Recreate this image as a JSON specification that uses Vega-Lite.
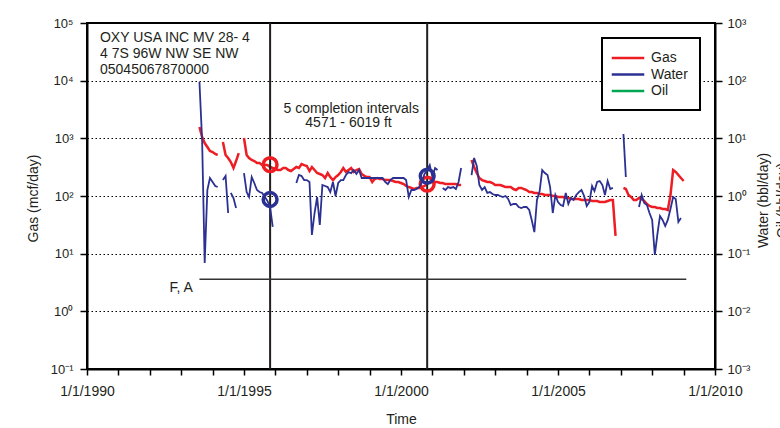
{
  "$schema": "https://vega.github.io/schema/vega-lite/v6.json",
  "width": 628,
  "height": 346,
  "autosize": {"type": "none"},
  "padding": {"left": 87, "top": 23, "right": 65, "bottom": 59},
  "background": "white",
  "config": {
    "font": "Liberation Sans",
    "view": {"stroke": "black", "strokeWidth": 2},
    "axis": {
      "domainColor": "black", "domainWidth": 2, "tickColor": "black", "tickWidth": 1.5,
      "labelColor": "#231f20", "titleColor": "#231f20", "labelFont": "Liberation Sans",
      "titleFont": "Liberation Sans", "titleFontWeight": "normal", "titleFontSize": 14,
      "labelFlush": false, "labelBound": false, "labelOverlap": false
    }
  },
  "datasets": {
    "gas": [
      {"d":"1993-08-01","v":1570,"s":"g1","k":"Gas"},{"d":"1993-09-01","v":1053,"s":"g1","k":"Gas"},{"d":"1993-10-01","v":829,"s":"g1","k":"Gas"},{"d":"1993-11-01","v":707,"s":"g1","k":"Gas"},{"d":"1993-12-01","v":603,"s":"g1","k":"Gas"},{"d":"1994-01-01","v":579,"s":"g1","k":"Gas"},{"d":"1994-02-01","v":535,"s":"g1","k":"Gas"},{"d":"1994-03-01","v":514,"s":"g1","k":"Gas"},
      {"d":"1994-05-01","v":863,"s":"g2","k":"Gas"},{"d":"1994-06-01","v":514,"s":"g2","k":"Gas"},{"d":"1994-07-01","v":456,"s":"g2","k":"Gas"},{"d":"1994-08-01","v":388,"s":"g2","k":"Gas"},{"d":"1994-09-01","v":306,"s":"g2","k":"Gas"},{"d":"1994-10-01","v":404,"s":"g2","k":"Gas"},{"d":"1994-11-01","v":556,"s":"g2","k":"Gas"},
      {"d":"1995-01-01","v":1012,"s":"g3","k":"Gas"},{"d":"1995-02-01","v":514,"s":"g3","k":"Gas"},{"d":"1995-03-01","v":456,"s":"g3","k":"Gas"},{"d":"1995-04-01","v":421,"s":"g3","k":"Gas"},{"d":"1995-05-01","v":404,"s":"g3","k":"Gas"},{"d":"1995-06-01","v":373,"s":"g3","k":"Gas"},{"d":"1995-07-01","v":373,"s":"g3","k":"Gas"},{"d":"1995-08-01","v":344,"s":"g3","k":"Gas"},{"d":"1995-09-01","v":344,"s":"g3","k":"Gas"},{"d":"1995-10-01","v":344,"s":"g3","k":"Gas"},{"d":"1995-11-01","v":318,"s":"g3","k":"Gas"},{"d":"1995-12-01","v":306,"s":"g3","k":"Gas"},
      {"d":"1996-01-01","v":294,"s":"g3","k":"Gas"},{"d":"1996-02-01","v":282,"s":"g3","k":"Gas"},{"d":"1996-03-01","v":282,"s":"g3","k":"Gas"},{"d":"1996-04-01","v":306,"s":"g3","k":"Gas"},{"d":"1996-05-01","v":306,"s":"g3","k":"Gas"},{"d":"1996-06-01","v":282,"s":"g3","k":"Gas"},{"d":"1996-07-01","v":271,"s":"g3","k":"Gas"},{"d":"1996-08-01","v":294,"s":"g3","k":"Gas"},{"d":"1996-09-01","v":318,"s":"g3","k":"Gas"},{"d":"1996-10-01","v":306,"s":"g3","k":"Gas"},{"d":"1996-11-01","v":359,"s":"g3","k":"Gas"},{"d":"1996-12-01","v":344,"s":"g3","k":"Gas"},
      {"d":"1997-01-01","v":331,"s":"g3","k":"Gas"},{"d":"1997-02-01","v":271,"s":"g3","k":"Gas"},{"d":"1997-03-01","v":318,"s":"g3","k":"Gas"},{"d":"1997-04-01","v":282,"s":"g3","k":"Gas"},{"d":"1997-05-01","v":250,"s":"g3","k":"Gas"},{"d":"1997-06-01","v":241,"s":"g3","k":"Gas"},{"d":"1997-07-01","v":231,"s":"g3","k":"Gas"},{"d":"1997-08-01","v":205,"s":"g3","k":"Gas"},{"d":"1997-09-01","v":250,"s":"g3","k":"Gas"},{"d":"1997-10-01","v":213,"s":"g3","k":"Gas"},{"d":"1997-11-01","v":189,"s":"g3","k":"Gas"},{"d":"1997-12-01","v":213,"s":"g3","k":"Gas"},
      {"d":"1998-01-01","v":231,"s":"g3","k":"Gas"},{"d":"1998-02-01","v":261,"s":"g3","k":"Gas"},{"d":"1998-03-01","v":306,"s":"g3","k":"Gas"},{"d":"1998-04-01","v":261,"s":"g3","k":"Gas"},{"d":"1998-05-01","v":282,"s":"g3","k":"Gas"},{"d":"1998-06-01","v":306,"s":"g3","k":"Gas"},{"d":"1998-07-01","v":261,"s":"g3","k":"Gas"},{"d":"1998-08-01","v":282,"s":"g3","k":"Gas"},{"d":"1998-09-01","v":294,"s":"g3","k":"Gas"},{"d":"1998-10-01","v":241,"s":"g3","k":"Gas"},{"d":"1998-11-01","v":222,"s":"g3","k":"Gas"},{"d":"1998-12-01","v":213,"s":"g3","k":"Gas"},
      {"d":"1999-01-01","v":213,"s":"g3","k":"Gas"},{"d":"1999-02-01","v":175,"s":"g3","k":"Gas"},{"d":"1999-03-01","v":197,"s":"g3","k":"Gas"},{"d":"1999-04-01","v":205,"s":"g3","k":"Gas"},{"d":"1999-05-01","v":197,"s":"g3","k":"Gas"},{"d":"1999-06-01","v":197,"s":"g3","k":"Gas"},{"d":"1999-07-01","v":189,"s":"g3","k":"Gas"},{"d":"1999-08-01","v":189,"s":"g3","k":"Gas"},{"d":"1999-09-01","v":189,"s":"g3","k":"Gas"},{"d":"1999-10-01","v":182,"s":"g3","k":"Gas"},{"d":"1999-11-01","v":175,"s":"g3","k":"Gas"},{"d":"1999-12-01","v":175,"s":"g3","k":"Gas"},
      {"d":"2000-01-01","v":168,"s":"g3","k":"Gas"},{"d":"2000-02-01","v":161,"s":"g3","k":"Gas"},{"d":"2000-03-01","v":149,"s":"g3","k":"Gas"},{"d":"2000-04-01","v":143,"s":"g3","k":"Gas"},{"d":"2000-05-01","v":138,"s":"g3","k":"Gas"},{"d":"2000-06-01","v":132,"s":"g3","k":"Gas"},{"d":"2000-07-01","v":138,"s":"g3","k":"Gas"},{"d":"2000-08-01","v":138,"s":"g3","k":"Gas"},{"d":"2000-09-01","v":143,"s":"g3","k":"Gas"},{"d":"2000-10-01","v":149,"s":"g3","k":"Gas"},{"d":"2000-11-01","v":161,"s":"g3","k":"Gas"},{"d":"2000-12-01","v":175,"s":"g3","k":"Gas"},
      {"d":"2001-01-01","v":175,"s":"g3","k":"Gas"},{"d":"2001-02-01","v":175,"s":"g3","k":"Gas"},{"d":"2001-03-01","v":175,"s":"g3","k":"Gas"},{"d":"2001-04-01","v":168,"s":"g3","k":"Gas"},{"d":"2001-05-01","v":168,"s":"g3","k":"Gas"},{"d":"2001-06-01","v":161,"s":"g3","k":"Gas"},{"d":"2001-07-01","v":161,"s":"g3","k":"Gas"},{"d":"2001-08-01","v":161,"s":"g3","k":"Gas"},{"d":"2001-09-01","v":161,"s":"g3","k":"Gas"},{"d":"2001-10-01","v":161,"s":"g3","k":"Gas"},{"d":"2001-11-01","v":155,"s":"g3","k":"Gas"},{"d":"2001-12-01","v":155,"s":"g3","k":"Gas"},
      {"d":"2002-04-01","v":421,"s":"g4","k":"Gas"},{"d":"2002-05-01","v":318,"s":"g4","k":"Gas"},{"d":"2002-06-01","v":250,"s":"g4","k":"Gas"},{"d":"2002-07-01","v":205,"s":"g4","k":"Gas"},{"d":"2002-08-01","v":189,"s":"g4","k":"Gas"},{"d":"2002-09-01","v":182,"s":"g4","k":"Gas"},{"d":"2002-10-01","v":175,"s":"g4","k":"Gas"},{"d":"2002-11-01","v":175,"s":"g4","k":"Gas"},{"d":"2002-12-01","v":168,"s":"g4","k":"Gas"},
      {"d":"2003-01-01","v":155,"s":"g4","k":"Gas"},{"d":"2003-02-01","v":155,"s":"g4","k":"Gas"},{"d":"2003-03-01","v":155,"s":"g4","k":"Gas"},{"d":"2003-04-01","v":149,"s":"g4","k":"Gas"},{"d":"2003-05-01","v":143,"s":"g4","k":"Gas"},{"d":"2003-06-01","v":143,"s":"g4","k":"Gas"},{"d":"2003-07-01","v":143,"s":"g4","k":"Gas"},{"d":"2003-08-01","v":132,"s":"g4","k":"Gas"},{"d":"2003-09-01","v":127,"s":"g4","k":"Gas"},{"d":"2003-10-01","v":138,"s":"g4","k":"Gas"},{"d":"2003-11-01","v":138,"s":"g4","k":"Gas"},{"d":"2003-12-01","v":132,"s":"g4","k":"Gas"},
      {"d":"2004-01-01","v":127,"s":"g4","k":"Gas"},{"d":"2004-02-01","v":117,"s":"g4","k":"Gas"},{"d":"2004-03-01","v":117,"s":"g4","k":"Gas"},{"d":"2004-04-01","v":113,"s":"g4","k":"Gas"},{"d":"2004-05-01","v":113,"s":"g4","k":"Gas"},{"d":"2004-06-01","v":108,"s":"g4","k":"Gas"},{"d":"2004-07-01","v":108,"s":"g4","k":"Gas"},{"d":"2004-08-01","v":104,"s":"g4","k":"Gas"},{"d":"2004-09-01","v":104,"s":"g4","k":"Gas"},{"d":"2004-10-01","v":104,"s":"g4","k":"Gas"},{"d":"2004-11-01","v":100,"s":"g4","k":"Gas"},{"d":"2004-12-01","v":100,"s":"g4","k":"Gas"},
      {"d":"2005-01-01","v":96.1,"s":"g4","k":"Gas"},{"d":"2005-02-01","v":96.1,"s":"g4","k":"Gas"},{"d":"2005-03-01","v":96.1,"s":"g4","k":"Gas"},{"d":"2005-04-01","v":92.3,"s":"g4","k":"Gas"},{"d":"2005-05-01","v":92.3,"s":"g4","k":"Gas"},{"d":"2005-06-01","v":88.7,"s":"g4","k":"Gas"},{"d":"2005-07-01","v":88.7,"s":"g4","k":"Gas"},{"d":"2005-08-01","v":88.7,"s":"g4","k":"Gas"},{"d":"2005-09-01","v":88.7,"s":"g4","k":"Gas"},{"d":"2005-10-01","v":85.3,"s":"g4","k":"Gas"},{"d":"2005-11-01","v":85.3,"s":"g4","k":"Gas"},{"d":"2005-12-01","v":85.3,"s":"g4","k":"Gas"},
      {"d":"2006-01-01","v":85.3,"s":"g4","k":"Gas"},{"d":"2006-02-01","v":81.9,"s":"g4","k":"Gas"},{"d":"2006-03-01","v":81.9,"s":"g4","k":"Gas"},{"d":"2006-04-01","v":81.9,"s":"g4","k":"Gas"},{"d":"2006-05-01","v":78.7,"s":"g4","k":"Gas"},{"d":"2006-06-01","v":78.7,"s":"g4","k":"Gas"},{"d":"2006-07-01","v":78.7,"s":"g4","k":"Gas"},{"d":"2006-08-01","v":81.9,"s":"g4","k":"Gas"},{"d":"2006-09-01","v":85.3,"s":"g4","k":"Gas"},{"d":"2006-10-01","v":85.3,"s":"g4","k":"Gas"},{"d":"2006-11-01","v":20.3,"s":"g4","k":"Gas"},
      {"d":"2007-02-01","v":138,"s":"g5","k":"Gas"},{"d":"2007-03-01","v":132,"s":"g5","k":"Gas"},{"d":"2007-04-01","v":104,"s":"g5","k":"Gas"},{"d":"2007-05-01","v":96.1,"s":"g5","k":"Gas"},{"d":"2007-06-01","v":85.3,"s":"g5","k":"Gas"},{"d":"2007-07-01","v":85.3,"s":"g5","k":"Gas"},{"d":"2007-08-01","v":92.3,"s":"g5","k":"Gas"},{"d":"2007-09-01","v":88.7,"s":"g5","k":"Gas"},{"d":"2007-10-01","v":81.9,"s":"g5","k":"Gas"},{"d":"2007-11-01","v":72.7,"s":"g5","k":"Gas"},{"d":"2007-12-01","v":67.1,"s":"g5","k":"Gas"},
      {"d":"2008-01-01","v":64.5,"s":"g5","k":"Gas"},{"d":"2008-02-01","v":64.5,"s":"g5","k":"Gas"},{"d":"2008-03-01","v":61.9,"s":"g5","k":"Gas"},{"d":"2008-04-01","v":61.9,"s":"g5","k":"Gas"},{"d":"2008-05-01","v":59.5,"s":"g5","k":"Gas"},{"d":"2008-06-01","v":59.5,"s":"g5","k":"Gas"},{"d":"2008-07-01","v":57.2,"s":"g5","k":"Gas"},{"d":"2008-08-01","v":104,"s":"g5","k":"Gas"},{"d":"2008-09-01","v":282,"s":"g5","k":"Gas"},{"d":"2008-10-01","v":261,"s":"g5","k":"Gas"},{"d":"2008-11-01","v":231,"s":"g5","k":"Gas"},{"d":"2008-12-01","v":205,"s":"g5","k":"Gas"},{"d":"2009-01-01","v":182,"s":"g5","k":"Gas"}
    ],
    "water": [
      {"d":"1993-08-01","v":94.6,"s":"w1","k":"Water"},{"d":"1993-09-01","v":9.34,"s":"w1","k":"Water"},{"d":"1993-10-01","v":0.069,"s":"w1","k":"Water"},{"d":"1993-11-01","v":1.27,"s":"w1","k":"Water"},{"d":"1993-12-01","v":2.05,"s":"w1","k":"Water"},{"d":"1994-01-01","v":1.75,"s":"w1","k":"Water"},{"d":"1994-02-01","v":1.49,"s":"w1","k":"Water"},{"d":"1994-03-01","v":1.43,"s":"w1","k":"Water"},
      {"d":"1994-05-01","v":1.89,"s":"w2","k":"Water"},{"d":"1994-06-01","v":2.22,"s":"w2","k":"Water"},{"d":"1994-07-01","v":0.507,"s":"w2","k":"Water"},
      {"d":"1994-08-01","v":1.13,"s":"w3","k":"Water"},{"d":"1994-09-01","v":0.923,"s":"w3","k":"Water"},{"d":"1994-10-01","v":0.619,"s":"w3","k":"Water"},
      {"d":"1995-01-01","v":2.5,"s":"w4","k":"Water"},{"d":"1995-02-01","v":1.17,"s":"w4","k":"Water"},{"d":"1995-03-01","v":0.961,"s":"w4","k":"Water"},{"d":"1995-04-01","v":2.13,"s":"w4","k":"Water"},{"d":"1995-05-01","v":1.68,"s":"w4","k":"Water"},{"d":"1995-06-01","v":1.27,"s":"w4","k":"Water"},{"d":"1995-07-01","v":1.17,"s":"w4","k":"Water"},{"d":"1995-08-01","v":1.13,"s":"w4","k":"Water"},{"d":"1995-09-01","v":0.961,"s":"w4","k":"Water"},{"d":"1995-10-01","v":0.819,"s":"w4","k":"Water"},{"d":"1995-11-01","v":0.645,"s":"w4","k":"Water"},{"d":"1995-12-01","v":0.291,"s":"w4","k":"Water"},
      {"d":"1996-09-01","v":1.68,"s":"w5","k":"Water"},{"d":"1996-10-01","v":2.31,"s":"w5","k":"Water"},{"d":"1996-11-01","v":2.22,"s":"w5","k":"Water"},{"d":"1996-12-01","v":1.89,"s":"w5","k":"Water"},
      {"d":"1997-01-01","v":1.89,"s":"w5","k":"Water"},{"d":"1997-02-01","v":1.75,"s":"w5","k":"Water"},{"d":"1997-03-01","v":0.211,"s":"w5","k":"Water"},{"d":"1997-04-01","v":0.507,"s":"w5","k":"Water"},{"d":"1997-05-01","v":0.961,"s":"w5","k":"Water"},{"d":"1997-06-01","v":0.314,"s":"w5","k":"Water"},{"d":"1997-07-01","v":1.55,"s":"w5","k":"Water"},{"d":"1997-08-01","v":1.49,"s":"w5","k":"Water"},{"d":"1997-09-01","v":1.43,"s":"w5","k":"Water"},{"d":"1997-10-01","v":1.17,"s":"w5","k":"Water"},{"d":"1997-11-01","v":1.75,"s":"w5","k":"Water"},{"d":"1997-12-01","v":1.0,"s":"w5","k":"Water"},
      {"d":"1998-01-01","v":1.68,"s":"w5","k":"Water"},{"d":"1998-02-01","v":1.89,"s":"w5","k":"Water"},{"d":"1998-03-01","v":1.89,"s":"w5","k":"Water"},{"d":"1998-04-01","v":2.31,"s":"w5","k":"Water"},{"d":"1998-05-01","v":2.61,"s":"w5","k":"Water"},{"d":"1998-06-01","v":2.5,"s":"w5","k":"Water"},{"d":"1998-07-01","v":2.82,"s":"w5","k":"Water"},{"d":"1998-08-01","v":2.41,"s":"w5","k":"Water"},{"d":"1998-09-01","v":2.82,"s":"w5","k":"Water"},{"d":"1998-10-01","v":2.05,"s":"w5","k":"Water"},{"d":"1998-11-01","v":2.05,"s":"w5","k":"Water"},{"d":"1998-12-01","v":2.05,"s":"w5","k":"Water"},
      {"d":"1999-01-01","v":2.05,"s":"w5","k":"Water"},{"d":"1999-02-01","v":2.05,"s":"w5","k":"Water"},{"d":"1999-03-01","v":2.05,"s":"w5","k":"Water"},{"d":"1999-04-01","v":2.05,"s":"w5","k":"Water"},{"d":"1999-05-01","v":2.05,"s":"w5","k":"Water"},{"d":"1999-06-01","v":2.05,"s":"w5","k":"Water"},{"d":"1999-07-01","v":1.75,"s":"w5","k":"Water"},{"d":"1999-08-01","v":1.61,"s":"w5","k":"Water"},{"d":"1999-09-01","v":1.89,"s":"w5","k":"Water"},{"d":"1999-10-01","v":2.05,"s":"w5","k":"Water"},{"d":"1999-11-01","v":2.05,"s":"w5","k":"Water"},{"d":"1999-12-01","v":2.05,"s":"w5","k":"Water"},
      {"d":"2000-01-01","v":2.05,"s":"w5","k":"Water"},{"d":"2000-02-01","v":2.05,"s":"w5","k":"Water"},{"d":"2000-03-01","v":1.89,"s":"w5","k":"Water"},{"d":"2000-04-01","v":0.961,"s":"w5","k":"Water"},{"d":"2000-05-01","v":1.27,"s":"w5","k":"Water"},{"d":"2000-06-01","v":1.27,"s":"w5","k":"Water"},{"d":"2000-07-01","v":1.32,"s":"w5","k":"Water"},{"d":"2000-08-01","v":1.43,"s":"w5","k":"Water"},{"d":"2000-09-01","v":1.75,"s":"w5","k":"Water"},{"d":"2000-10-01","v":2.41,"s":"w5","k":"Water"},{"d":"2000-11-01","v":2.82,"s":"w5","k":"Water"},{"d":"2000-12-01","v":3.44,"s":"w5","k":"Water"},
      {"d":"2001-01-01","v":2.13,"s":"w5","k":"Water"},{"d":"2001-02-01","v":3.06,"s":"w5","k":"Water"},{"d":"2001-03-01","v":2.82,"s":"w5","k":"Water"},
      {"d":"2001-05-01","v":1.38,"s":"w6","k":"Water"},{"d":"2001-06-01","v":1.27,"s":"w6","k":"Water"},{"d":"2001-07-01","v":1.43,"s":"w6","k":"Water"},{"d":"2001-08-01","v":1.38,"s":"w6","k":"Water"},{"d":"2001-09-01","v":1.43,"s":"w6","k":"Water"},{"d":"2001-10-01","v":1.32,"s":"w6","k":"Water"},{"d":"2001-11-01","v":1.75,"s":"w6","k":"Water"},{"d":"2001-12-01","v":3.06,"s":"w6","k":"Water"},
      {"d":"2002-04-01","v":2.31,"s":"w7","k":"Water"},{"d":"2002-05-01","v":4.56,"s":"w7","k":"Water"},{"d":"2002-06-01","v":3.31,"s":"w7","k":"Water"},{"d":"2002-07-01","v":1.55,"s":"w7","k":"Water"},{"d":"2002-08-01","v":1.27,"s":"w7","k":"Water"},{"d":"2002-09-01","v":1.43,"s":"w7","k":"Water"},{"d":"2002-10-01","v":1.13,"s":"w7","k":"Water"},{"d":"2002-11-01","v":1.17,"s":"w7","k":"Water"},{"d":"2002-12-01","v":1.08,"s":"w7","k":"Water"},
      {"d":"2003-01-01","v":1.04,"s":"w7","k":"Water"},{"d":"2003-02-01","v":1.04,"s":"w7","k":"Water"},{"d":"2003-03-01","v":1.0,"s":"w7","k":"Water"},{"d":"2003-04-01","v":0.961,"s":"w7","k":"Water"},{"d":"2003-05-01","v":1.0,"s":"w7","k":"Water"},{"d":"2003-06-01","v":0.887,"s":"w7","k":"Water"},{"d":"2003-07-01","v":0.698,"s":"w7","k":"Water"},{"d":"2003-08-01","v":0.727,"s":"w7","k":"Water"},{"d":"2003-09-01","v":0.727,"s":"w7","k":"Water"},{"d":"2003-10-01","v":0.645,"s":"w7","k":"Water"},{"d":"2003-11-01","v":0.619,"s":"w7","k":"Water"},{"d":"2003-12-01","v":0.645,"s":"w7","k":"Water"},
      {"d":"2004-01-01","v":0.645,"s":"w7","k":"Water"},{"d":"2004-02-01","v":0.572,"s":"w7","k":"Water"},{"d":"2004-03-01","v":0.384,"s":"w7","k":"Water"},{"d":"2004-04-01","v":0.237,"s":"w7","k":"Water"},{"d":"2004-05-01","v":0.853,"s":"w7","k":"Water"},{"d":"2004-06-01","v":1.22,"s":"w7","k":"Water"},{"d":"2004-07-01","v":2.82,"s":"w7","k":"Water"},{"d":"2004-08-01","v":2.5,"s":"w7","k":"Water"},{"d":"2004-09-01","v":2.31,"s":"w7","k":"Water"},{"d":"2004-10-01","v":1.43,"s":"w7","k":"Water"},{"d":"2004-11-01","v":0.507,"s":"w7","k":"Water"},{"d":"2004-12-01","v":1.04,"s":"w7","k":"Water"},
      {"d":"2005-01-01","v":0.787,"s":"w7","k":"Water"},{"d":"2005-02-01","v":0.698,"s":"w7","k":"Water"},{"d":"2005-03-01","v":0.671,"s":"w7","k":"Water"},{"d":"2005-04-01","v":1.13,"s":"w7","k":"Water"},{"d":"2005-05-01","v":0.727,"s":"w7","k":"Water"},{"d":"2005-06-01","v":0.923,"s":"w7","k":"Water"},{"d":"2005-07-01","v":0.853,"s":"w7","k":"Water"},{"d":"2005-08-01","v":1.04,"s":"w7","k":"Water"},{"d":"2005-09-01","v":1.17,"s":"w7","k":"Water"},{"d":"2005-10-01","v":1.27,"s":"w7","k":"Water"},{"d":"2005-11-01","v":1.0,"s":"w7","k":"Water"},{"d":"2005-12-01","v":0.671,"s":"w7","k":"Water"},
      {"d":"2006-01-01","v":0.787,"s":"w7","k":"Water"},{"d":"2006-02-01","v":1.49,"s":"w7","k":"Water"},{"d":"2006-03-01","v":1.22,"s":"w7","k":"Water"},{"d":"2006-04-01","v":1.75,"s":"w7","k":"Water"},{"d":"2006-05-01","v":1.82,"s":"w7","k":"Water"},{"d":"2006-06-01","v":1.55,"s":"w7","k":"Water"},{"d":"2006-07-01","v":1.04,"s":"w7","k":"Water"},{"d":"2006-08-01","v":1.82,"s":"w7","k":"Water"},{"d":"2006-09-01","v":1.32,"s":"w7","k":"Water"},{"d":"2006-10-01","v":1.38,"s":"w7","k":"Water"},
      {"d":"2007-02-01","v":11.87,"s":"w8","k":"Water"},{"d":"2007-03-01","v":2.13,"s":"w8","k":"Water"},
      {"d":"2007-08-01","v":0.645,"s":"w9","k":"Water"},{"d":"2007-09-01","v":1.04,"s":"w9","k":"Water"},{"d":"2007-10-01","v":0.756,"s":"w9","k":"Water"},{"d":"2007-11-01","v":0.698,"s":"w9","k":"Water"},{"d":"2007-12-01","v":0.507,"s":"w9","k":"Water"},
      {"d":"2008-01-01","v":0.384,"s":"w9","k":"Water"},{"d":"2008-02-01","v":0.095,"s":"w9","k":"Water"},{"d":"2008-03-01","v":0.211,"s":"w9","k":"Water"},{"d":"2008-04-01","v":0.451,"s":"w9","k":"Water"},{"d":"2008-05-01","v":0.384,"s":"w9","k":"Water"},{"d":"2008-06-01","v":0.302,"s":"w9","k":"Water"},{"d":"2008-07-01","v":0.384,"s":"w9","k":"Water"},{"d":"2008-08-01","v":0.595,"s":"w9","k":"Water"},{"d":"2008-09-01","v":0.961,"s":"w9","k":"Water"},{"d":"2008-10-01","v":0.887,"s":"w9","k":"Water"},{"d":"2008-11-01","v":0.355,"s":"w9","k":"Water"},{"d":"2008-12-01","v":0.415,"s":"w9","k":"Water"}
    ]
  },
  "encoding": {
    "x": {
      "field": "d", "type": "temporal",
      "scale": {"type": "utc", "domain": [{"year": 1990, "month": 1, "date": 1, "utc": true}, {"year": 2010, "month": 1, "date": 1, "utc": true}]},
      "axis": {
        "values": [
          {"year":1990,"month":1,"date":1,"utc":true},{"year":1991,"month":1,"date":1,"utc":true},{"year":1992,"month":1,"date":1,"utc":true},{"year":1993,"month":1,"date":1,"utc":true},{"year":1994,"month":1,"date":1,"utc":true},{"year":1995,"month":1,"date":1,"utc":true},{"year":1996,"month":1,"date":1,"utc":true},{"year":1997,"month":1,"date":1,"utc":true},{"year":1998,"month":1,"date":1,"utc":true},{"year":1999,"month":1,"date":1,"utc":true},{"year":2000,"month":1,"date":1,"utc":true},{"year":2001,"month":1,"date":1,"utc":true},{"year":2002,"month":1,"date":1,"utc":true},{"year":2003,"month":1,"date":1,"utc":true},{"year":2004,"month":1,"date":1,"utc":true},{"year":2005,"month":1,"date":1,"utc":true},{"year":2006,"month":1,"date":1,"utc":true},{"year":2007,"month":1,"date":1,"utc":true},{"year":2008,"month":1,"date":1,"utc":true},{"year":2009,"month":1,"date":1,"utc":true},{"year":2010,"month":1,"date":1,"utc":true}
        ],
        "labelExpr": "utcyear(datum.value) % 5 == 0 ? '1/1/' + utcyear(datum.value) : ''",
        "labelFontSize": 14, "tickSize": 6, "labelPadding": 9, "grid": false,
        "title": "Time", "titleX": 314, "titleY": 54, "titleBaseline": "alphabetic", "titleAlign": "center"
      }
    }
  },
  "layer": [
    {
      "encoding": {
        "y": {
          "field": "v", "type": "quantitative",
          "scale": {"type": "log", "domain": [0.1, 100000], "nice": false},
          "axis": {
            "orient": "left", "values": [0.1, 1, 10, 100, 1000, 10000, 100000],
            "labelExpr": "'10' + (round(log(datum.value)/LN10) < 0 ? '⁻' : '') + substring('⁰¹²³⁴⁵⁶⁷⁸⁹', abs(round(log(datum.value)/LN10)), abs(round(log(datum.value)/LN10)) + 1)",
            "labelFontSize": 13, "tickSize": 7, "labelPadding": 7,
            "grid": true, "gridColor": "black", "gridDash": [1.5, 2.5], "gridWidth": 1, "gridOpacity": 1,
            "title": "Gas (mcf/day)", "titleX": -50, "titleY": 175, "titleAngle": 270, "titleAlign": "center", "titleBaseline": "alphabetic"
          }
        }
      },
      "layer": [
        {
          "data": {"name": "gas"},
          "mark": {"type": "line", "strokeWidth": 2.5},
          "encoding": {
            "color": {
              "field": "k", "type": "nominal",
              "scale": {"domain": ["Gas", "Water", "Oil"], "range": ["#ee1d23", "#2b3192", "#00a651"]},
              "legend": {
                "orient": "top-right", "offset": 15, "title": null, "symbolType": "M-2.5,0L2.5,0", "symbolSize": 169,
                "symbolOffset": 6, "symbolStrokeWidth": 2.5, "labelFontSize": 14, "labelColor": "#231f20", "labelOffset": 15,
                "rowPadding": 1.5, "padding": 12, "strokeColor": "black", "fillColor": "white",
                "encode": {"legend": {"update": {"strokeWidth": {"value": 2}}}}
              }
            },
            "detail": {"field": "s"}
          }
        },
        {
          "data": {"values": [{"d": "1995-11-01", "v": 0.1, "v2": 100000}, {"d": "2000-11-01", "v": 0.1, "v2": 100000}]},
          "mark": {"type": "rule", "color": "#231f20", "strokeWidth": 2},
          "encoding": {"y2": {"field": "v2"}}
        },
        {
          "data": {"values": [{"d": "1993-08-01", "d2": "2009-02-01", "v": 3.6}]},
          "mark": {"type": "rule", "color": "#333333", "strokeWidth": 1.5},
          "encoding": {"x2": {"field": "d2"}}
        },
        {
          "data": {"values": [
            {"d": "1990-06-01", "v": 54700, "t": "OXY USA INC MV 28- 4"},
            {"d": "1990-06-01", "v": 28900, "t": "4 7S 96W NW SE NW"},
            {"d": "1990-06-01", "v": 15300, "t": "05045067870000"}
          ]},
          "mark": {"type": "text", "align": "left", "baseline": "middle", "fontSize": 14, "color": "#231f20"},
          "encoding": {"text": {"field": "t"}}
        },
        {
          "data": {"values": [
            {"d": "1998-06-01", "v": 3220, "t": "5 completion intervals"},
            {"d": "1998-05-01", "v": 1840, "t": "4571 - 6019 ft"}
          ]},
          "mark": {"type": "text", "align": "center", "baseline": "middle", "fontSize": 14, "color": "#231f20"},
          "encoding": {"text": {"field": "t"}}
        },
        {
          "data": {"values": [{"d": "1993-05-15", "v": 2.54, "t": "F, A"}]},
          "mark": {"type": "text", "align": "right", "baseline": "middle", "fontSize": 14, "color": "#231f20"},
          "encoding": {"text": {"field": "t"}}
        },
        {
          "data": {"values": [{"d": "1995-11-01", "v": 350}, {"d": "2000-11-01", "v": 161}]},
          "mark": {"type": "point", "shape": "circle", "filled": false, "size": 190, "strokeWidth": 3.5, "color": "#ee1d23", "opacity": 1}
        }
      ]
    },
    {
      "encoding": {
        "y": {
          "field": "v", "type": "quantitative",
          "scale": {"type": "log", "domain": [0.001, 1000], "nice": false},
          "axis": {
            "orient": "right", "values": [0.001, 0.01, 0.1, 1, 10, 100, 1000],
            "labelExpr": "'10' + (round(log(datum.value)/LN10) < 0 ? '⁻' : '') + substring('⁰¹²³⁴⁵⁶⁷⁸⁹', abs(round(log(datum.value)/LN10)), abs(round(log(datum.value)/LN10)) + 1)",
            "labelFontSize": 13, "tickSize": 7, "labelPadding": 5, "grid": false,
            "title": ["Water (bbl/day)", "Oil (bbl/day)"], "titleX": 52, "titleY": 177, "titleAngle": 270,
            "titleAlign": "center", "titleBaseline": "alphabetic", "titleLineHeight": 19
          }
        }
      },
      "layer": [
        {
          "data": {"name": "water"},
          "mark": {"type": "line", "strokeWidth": 1.8},
          "encoding": {
            "color": {"field": "k", "type": "nominal", "scale": {"domain": ["Gas", "Water", "Oil"], "range": ["#ee1d23", "#2b3192", "#00a651"]}},
            "detail": {"field": "s"}
          }
        },
        {
          "data": {"values": [{"d": "1995-11-01", "v": 0.87}, {"d": "2000-11-01", "v": 2.22}]},
          "mark": {"type": "point", "shape": "circle", "filled": false, "size": 190, "strokeWidth": 3.5, "color": "#2b3192", "opacity": 1}
        }
      ]
    }
  ],
  "resolve": {"scale": {"y": "independent"}, "axis": {"y": "independent"}}
}
